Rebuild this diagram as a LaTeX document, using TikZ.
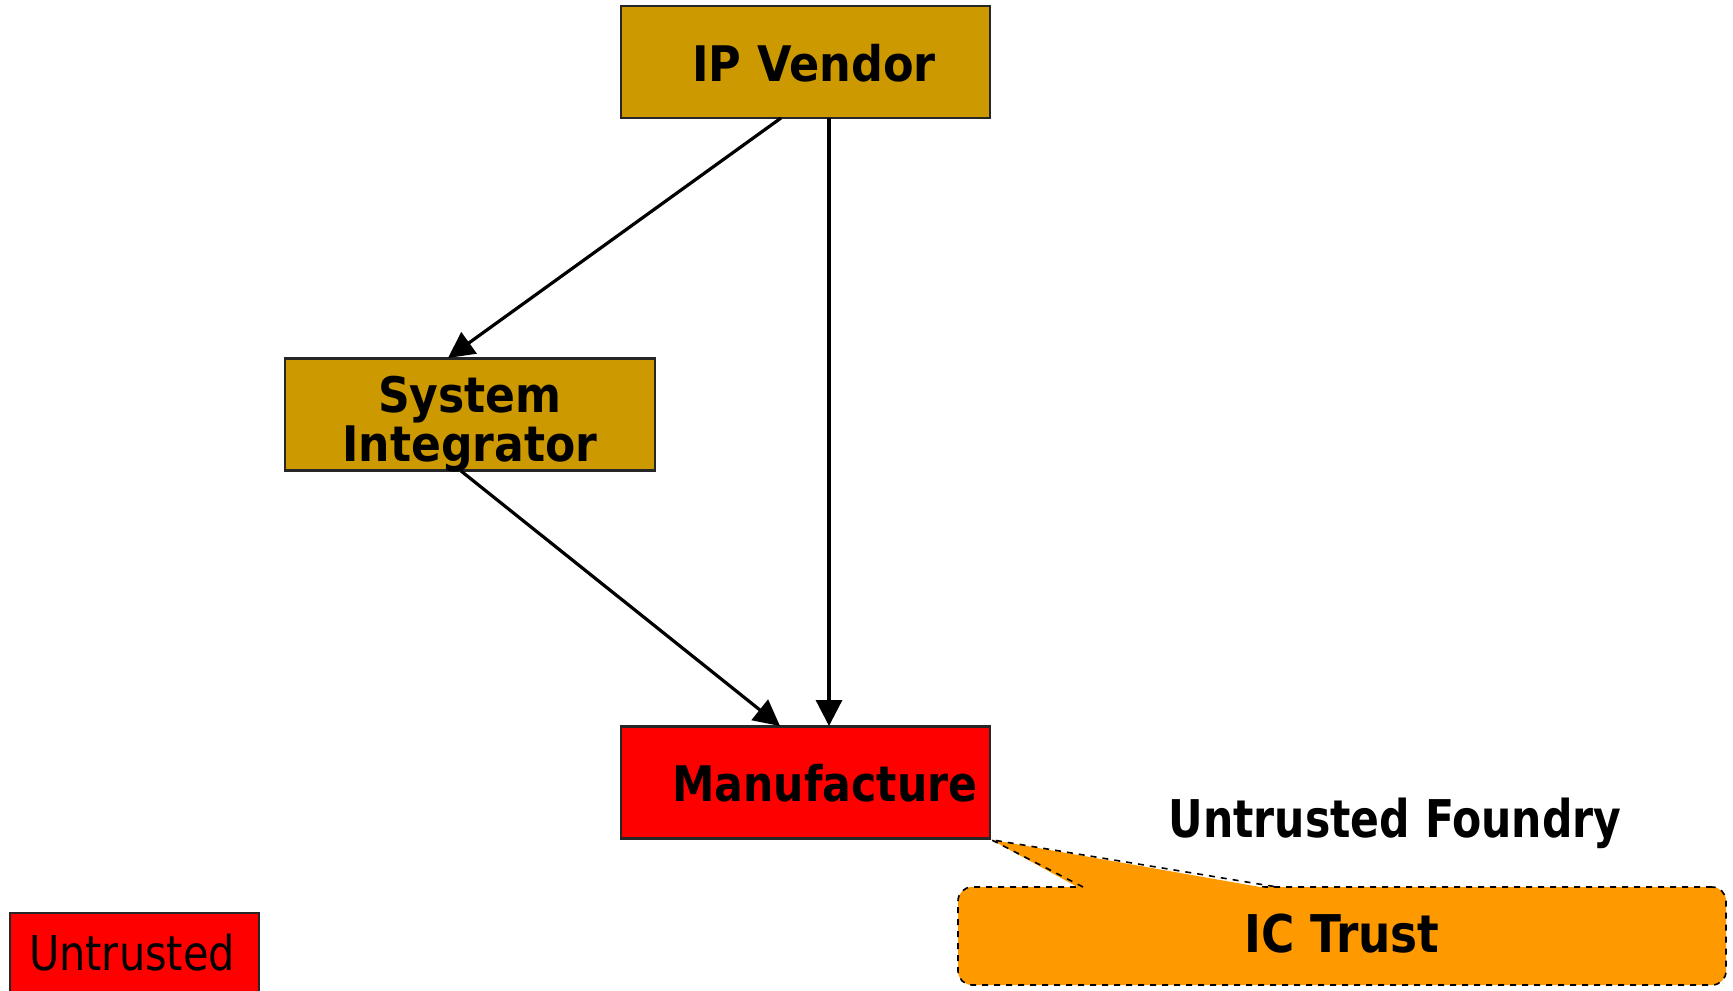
\documentclass[tikz,border=0pt]{standalone}
\usepackage{fontspec}
\setmainfont{DejaVu Sans}
\newfontfamily\condfont{DejaVu Sans Condensed}
\usetikzlibrary{arrows.meta}
\definecolor{gold}{HTML}{CC9900}
\definecolor{untrustred}{HTML}{FF0000}
\definecolor{callorange}{HTML}{FF9900}
\newcommand{\narrow}[2]{\scalebox{#1}[1]{#2}}
\tikzset{
  stagebox/.style={draw=black!85, line width=1.2pt, minimum width=184.5pt, minimum height=56pt, inner sep=0pt},
  stagetext/.style={font=\fontsize{24.5}{24.5}\selectfont\bfseries, anchor=base, inner sep=0pt},
  flow/.style={line width=1.6pt, -{Triangle[length=13pt, width=13pt]}},
  calltext/.style={font=\condfont\fontsize{26}{26}\selectfont\bfseries, anchor=base, inner sep=0pt},
}
\begin{document}
\begin{tikzpicture}[x=0.5pt, y=-0.5pt]
  \useasboundingbox (0,0) rectangle (1733,990);
  \clip (0,0) rectangle (1733,990);

  % stages of the flow
  \node[stagebox, fill=gold] (ipv) at (805.5,62) {};
  \node[stagetext] (ipvt) at (814,82) {\narrow{0.91}{IP Vendor}};

  \node[stagebox, fill=gold, minimum width=185pt] (sysint) at (470,414.5) {};
  \node[stagetext] (sysa) at (470,412) {\narrow{0.9}{System}};
  \node[stagetext] (sysb) at (470,461) {\narrow{0.9}{Integrator}};

  \node[stagebox, fill=untrustred] (manu) at (805.5,782.5) {};
  \node[stagetext] (manut) at (825,801) {\narrow{0.87}{Manufacture}};

  % connectors
  \coordinate (ipvA) at (781,118);
  \coordinate (ipvB) at (829,118);
  \coordinate (sysTop) at (448,358);
  \coordinate (sysBot) at (461,471);
  \coordinate (manA) at (780,726);
  \coordinate (manB) at (829,726);
  \draw[flow] (ipvA) -- (sysTop);
  \draw[flow] (ipvB) -- (manB);
  \draw[flow] (sysBot) -- (manA);

  % callout
  \node[calltext] (foundry) at (1395,837) {\narrow{0.91}{Untrusted Foundry}};
  \node[draw=black, dashed, line width=0.8pt, fill=callorange, rounded corners=7pt,
        minimum width=384pt, minimum height=49pt, inner sep=0pt] (icbox) at (1342,936) {};
  \coordinate (tailA) at (1083,887);
  \coordinate (tailB) at (1277,887);
  \fill[callorange] (manu.south east) -- ([yshift=-1.5pt]tailA) -- ([yshift=-1.5pt]tailB) -- cycle;
  \draw[dashed, line width=0.8pt] (tailA) -- (manu.south east) -- (tailB);
  \node[calltext] (ict) at (1342,952) {\narrow{0.97}{IC Trust}};

  % legend
  \node[draw=black!85, line width=1pt, fill=untrustred, minimum width=124.5pt, minimum height=50pt, inner sep=0pt] (legend) at (134.5,963) {};
  \node[font=\condfont\fontsize{24}{24}\selectfont, anchor=base, inner sep=0pt] (legendt) at (132,970) {\narrow{0.96}{Untrusted}};
\end{tikzpicture}
\end{document}
